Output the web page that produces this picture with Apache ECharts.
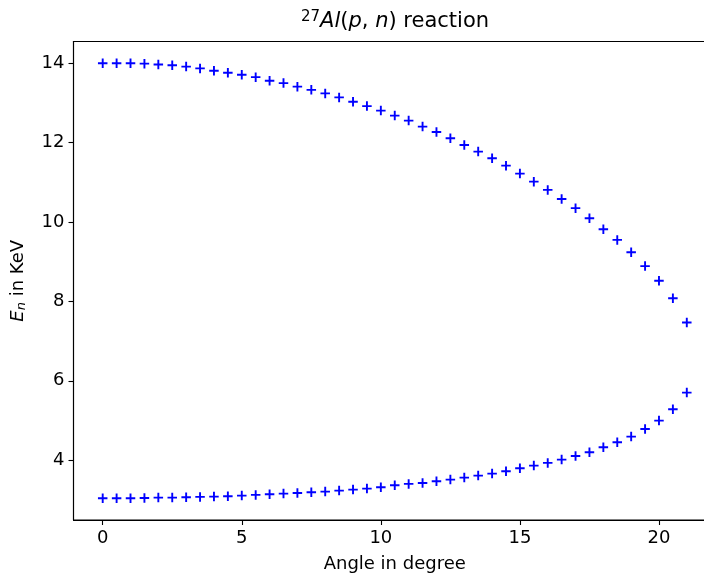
<!DOCTYPE html>
<html>
<head>
<meta charset="utf-8">
<script src="https://cdn.jsdelivr.net/npm/echarts@6/dist/echarts.min.js"></script>
<style>
html,body{margin:0;padding:0;background:#fff;}
#chart{width:704px;height:579px;}
</style>
</head>
<body>
<div id="chart"></div>
<script>
const angles = [0,0.5,1,1.5,2,2.5,3,3.5,4,4.5,5,5.5,6,6.5,7,7.5,8,8.5,9,9.5,10,10.5,11,11.5,12,12.5,13,13.5,14,14.5,15,15.5,16,16.5,17,17.5,18,18.5,19,19.5,20,20.5,21];
const upperEnergy = [14.00,14.00,14.00,13.99,13.97,13.95,13.915,13.87,13.81,13.76,13.71,13.65,13.56,13.50,13.41,13.33,13.24,13.14,13.03,12.92,12.807,12.681,12.555,12.404,12.27,12.11,11.94,11.774,11.606,11.42,11.22,11.018,10.81,10.58,10.35,10.095,9.82,9.55,9.24,8.89,8.52,8.08,7.47];
const lowerEnergy = [3.042,3.042,3.042,3.050,3.059,3.059,3.067,3.076,3.084,3.092,3.109,3.126,3.143,3.159,3.176,3.193,3.21,3.235,3.26,3.285,3.319,3.370,3.403,3.428,3.470,3.512,3.562,3.613,3.663,3.722,3.798,3.865,3.932,4.016,4.108,4.20,4.327,4.453,4.595,4.788,4.998,5.284,5.704];
const xTicks = [0,5,10,15,20];
const yTicks = [4,6,8,10,12,14];

const upperPts = angles.map((a,i)=>[a, upperEnergy[i]]);
const lowerPts = angles.map((a,i)=>[a, lowerEnergy[i]]);

const allY = upperEnergy.concat(lowerEnergy);
const yMinD = Math.min(...allY), yMaxD = Math.max(...allY);
const yPad = (yMaxD - yMinD) * 0.05;
const xMinD = angles[0], xMaxD = angles[angles.length-1];
const xPad = (xMaxD - xMinD) * 0.05;

const plus = 'path://M-0.2,-1 L0.2,-1 L0.2,-0.2 L1,-0.2 L1,0.2 L0.2,0.2 L0.2,1 L-0.2,1 L-0.2,0.2 L-1,0.2 L-1,-0.2 L-0.2,-0.2 Z';
const FONT = 'DejaVu Sans';

const chart = echarts.init(document.getElementById('chart'), null, {renderer:'canvas'});
chart.setOption({
  animation:false,
  backgroundColor:'#ffffff',
  title:{
    text:'{sup|27}{it|Al}{n|(}{it|p}{n|, }{it|n}{n|) reaction}',
    left:390, textAlign:'center', top:5,
    textStyle:{
      fontFamily:FONT, fontSize:21, color:'#000', fontWeight:'normal',
      rich:{
        sup:{fontFamily:FONT, fontSize:15, verticalAlign:'top', padding:[0,0,9,0], color:'#000'},
        it:{fontFamily:FONT, fontSize:21, fontStyle:'italic', color:'#000'},
        n:{fontFamily:FONT, fontSize:21, color:'#000'}
      }
    }
  },
  grid:{left:73.5, top:41.5, right:-12, bottom:59, outerBoundsMode:'none', containLabel:false,
        show:true, borderColor:'#000', borderWidth:1.1, backgroundColor:'transparent'},
  xAxis:{
    type:'value', min:xMinD - xPad, max:xMaxD + xPad,
    name:'Angle in degree', nameLocation:'middle', nameGap:35,
    nameTextStyle:{fontFamily:FONT, fontSize:18, color:'#000'},
    axisLine:{show:true, onZero:false, lineStyle:{color:'#000', width:1.1}},
    axisTick:{show:true, length:5, lineStyle:{color:'#000', width:1.1}, customValues:xTicks},
    axisLabel:{fontFamily:FONT, fontSize:18, color:'#000', margin:9, customValues:xTicks},
    splitLine:{show:false}
  },
  yAxis:{
    type:'value', min:yMinD - yPad, max:yMaxD + yPad,
    name:'{it|E}{sub|n}{n| in KeV}', nameLocation:'middle', nameGap:45, nameRotate:90,
    nameTextStyle:{fontFamily:FONT, fontSize:18, color:'#000',
      rich:{
        it:{fontFamily:FONT, fontSize:18, fontStyle:'italic', color:'#000'},
        sub:{fontFamily:FONT, fontSize:13, fontStyle:'italic', verticalAlign:'bottom', padding:[7,0,0,0], color:'#000'},
        n:{fontFamily:FONT, fontSize:18, color:'#000'}
      }},
    axisLine:{show:true, onZero:false, lineStyle:{color:'#000', width:1.1}},
    axisTick:{show:true, length:5, lineStyle:{color:'#000', width:1.1}, customValues:yTicks},
    axisLabel:{fontFamily:FONT, fontSize:18, color:'#000', margin:9, customValues:yTicks},
    splitLine:{show:false}
  },
  series:[
    {type:'scatter', data:upperPts, symbol:plus, symbolSize:9.5, itemStyle:{color:'#0000ff', opacity:1}, silent:true},
    {type:'scatter', data:lowerPts, symbol:plus, symbolSize:9.5, itemStyle:{color:'#0000ff', opacity:1}, silent:true}
  ]
});
</script>
</body>
</html>
